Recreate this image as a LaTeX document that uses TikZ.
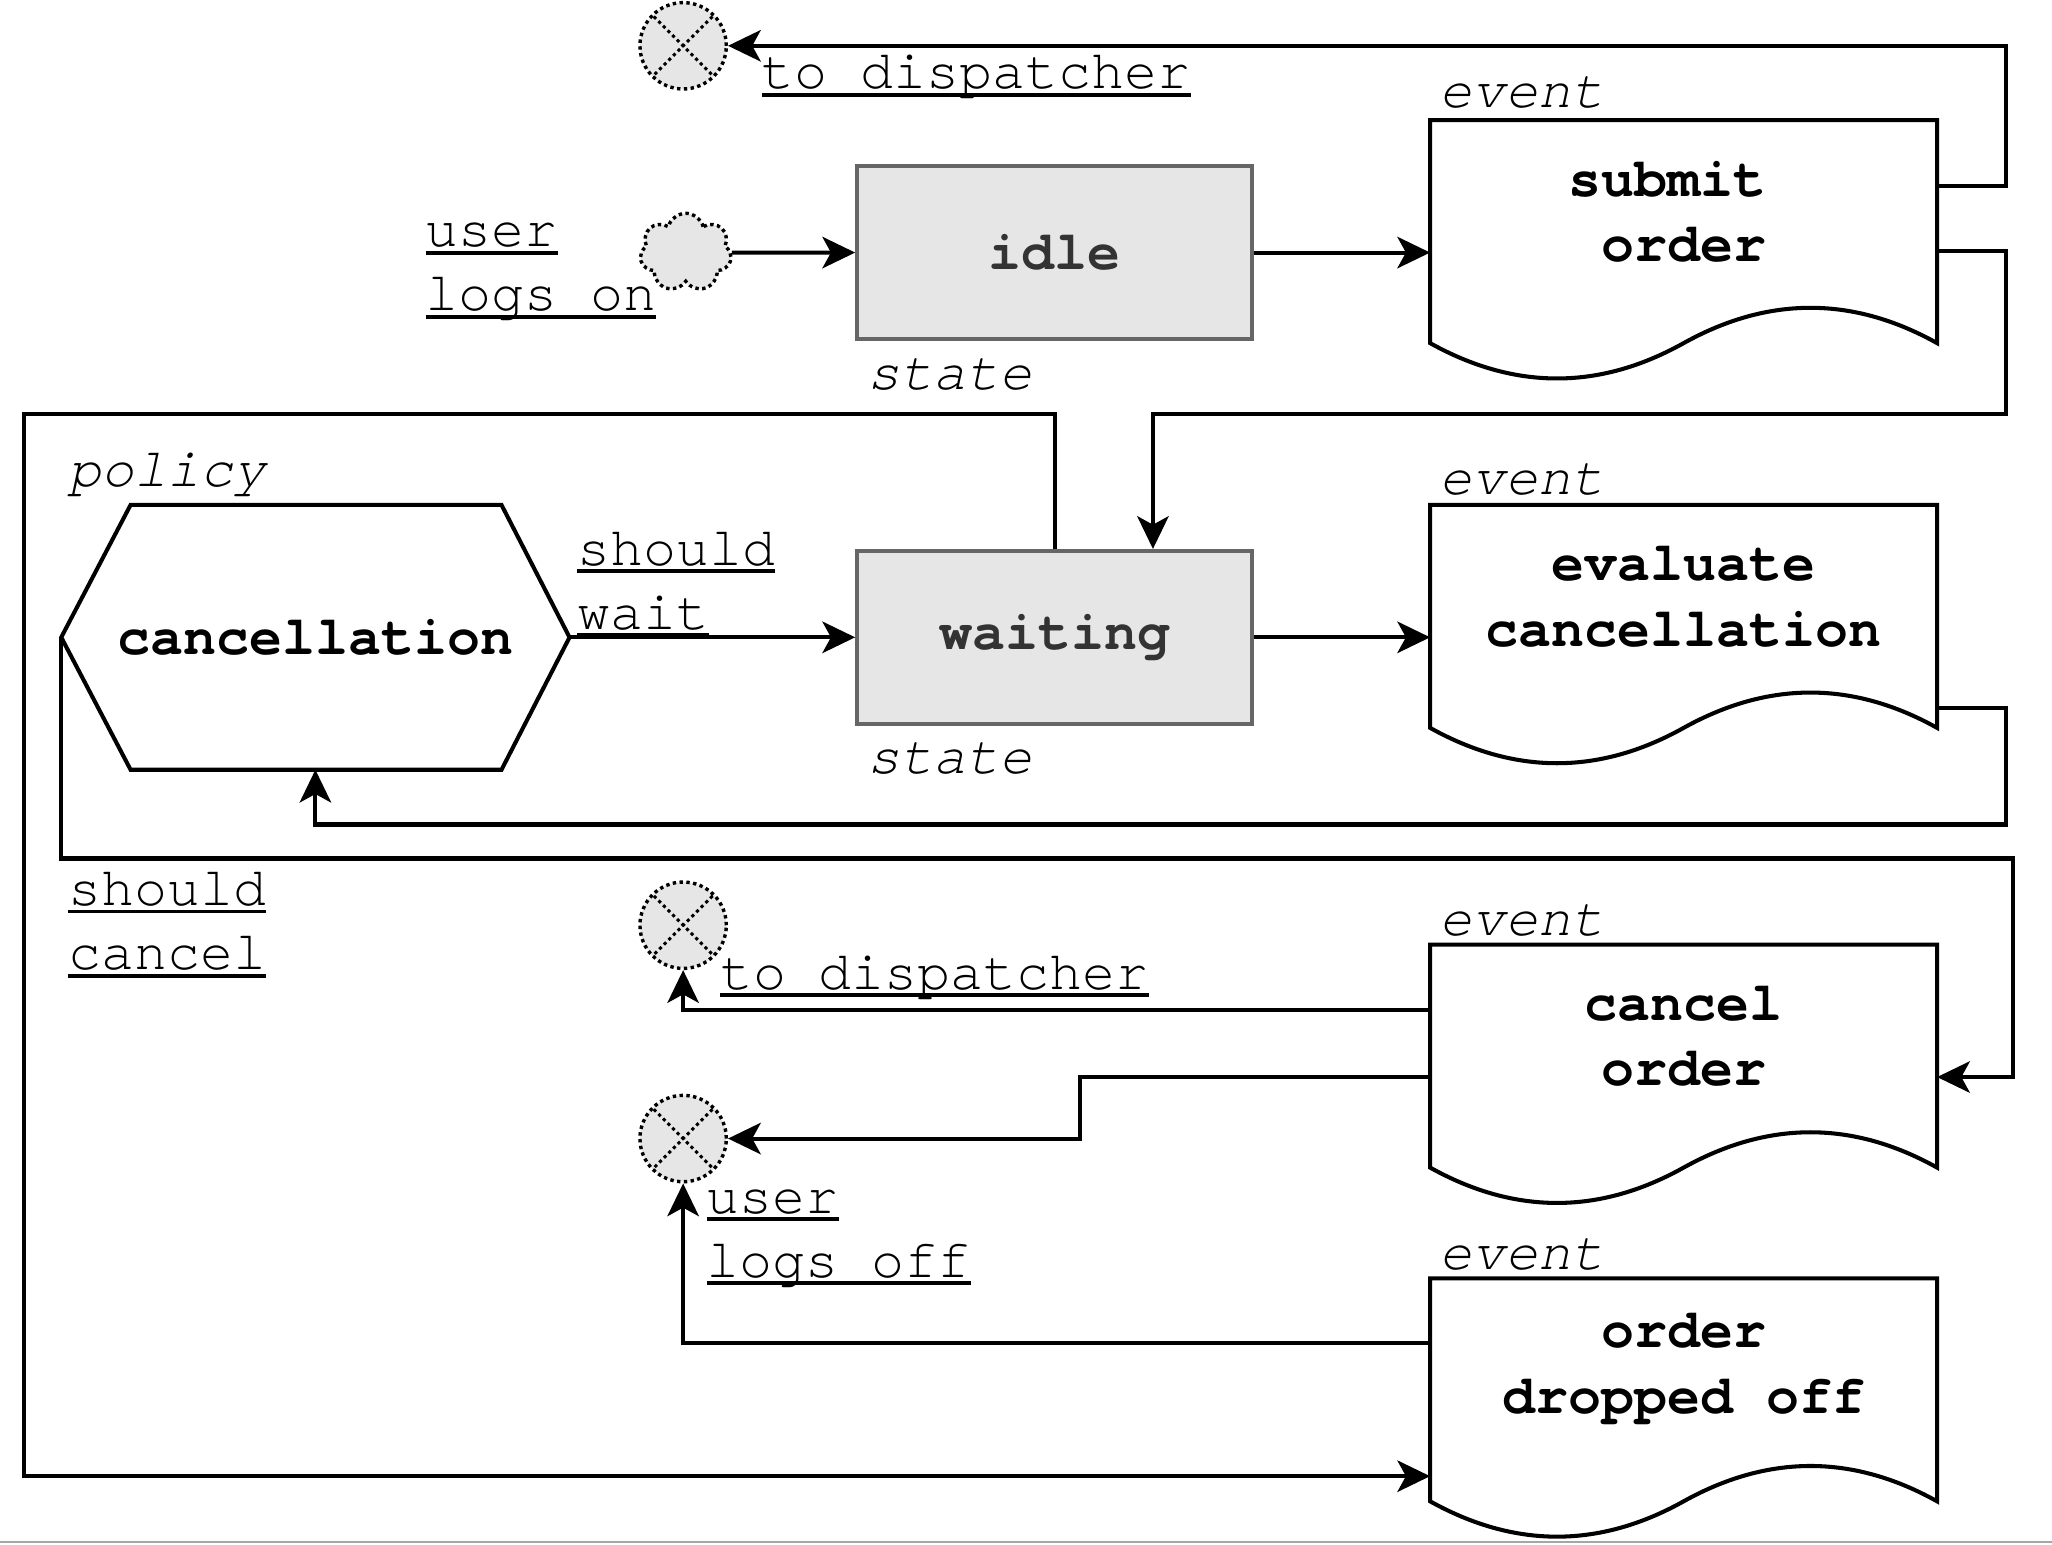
\documentclass[tikz,border=0pt]{standalone}
\usepackage{fontspec}
\setmonofont{texgyrecursor-regular.otf}[BoldFont=texgyrecursor-bold.otf,ItalicFont=texgyrecursor-italic.otf,BoldItalicFont=texgyrecursor-bolditalic.otf,Ligatures=NoCommon]
\usetikzlibrary{shapes.symbols,arrows.meta,calc}
\definecolor{stfill}{RGB}{230,230,230}
\definecolor{stdraw}{RGB}{102,102,102}
\definecolor{sttext}{RGB}{51,51,51}
\newcommand{\ulx}[1]{\setbox0\hbox{#1}\rlap{\rule[-6pt]{\wd0}{3pt}}\box0}
\newcommand{\docwave}[1]{%
  \draw[docline] (#1.south west) -- (#1.north west) -- (#1.north east) -- (#1.south east)
    .. controls ($(#1.south east)+(-64.5,-36)$) and ($(#1.south east)+(-129,-36)$) .. (#1.south)
    .. controls ($(#1.south)+(-64.5,36)$) and ($(#1.south)+(-129,36)$) .. (#1.south west) -- cycle;}
\begin{document}
\begin{tikzpicture}[x=1pt,y=-1pt,
  font=\ttfamily\fontsize{42}{49}\selectfont,
  ln/.style={line width=3.1pt},
  conn/.style={ln,-{Stealth[length=25pt,width=24pt,inset=6.5pt]}},
  boldtxt/.style={font=\ttfamily\bfseries\fontsize{42}{50}\selectfont},
  statebox/.style={draw=stdraw,fill=stfill,line width=3.1pt,minimum width=302pt,minimum height=132pt,inner sep=0pt,text=sttext,boldtxt},
  docbox/.style={minimum width=387pt,minimum height=170pt,inner sep=0pt},
  docline/.style={line width=3.1pt,fill=white},
  doctext/.style={align=center,boldtxt,inner sep=0pt},
  kind/.style={anchor=base west,inner sep=0pt,font=\ttfamily\itshape\fontsize{42}{50}\selectfont},
  elabel/.style={anchor=base west,inner sep=0pt,align=left},
  dotln/.style={line width=2.6pt,dash pattern=on 2.6pt off 2.6pt},
  endpt/.style={circle,minimum size=66pt,inner sep=0pt,fill=stfill,draw,dotln,
     path picture={\draw[line width=2.3pt,dash pattern=on 2.5pt off 2.5pt]
       (path picture bounding box.north west) -- (path picture bounding box.south east)
       (path picture bounding box.north east) -- (path picture bounding box.south west);}},
  startpt/.style={cloud,cloud puffs=7,draw,fill=stfill,dotln,minimum width=70pt,minimum height=60pt,inner sep=0pt}
]
\useasboundingbox (0,0) rectangle (1568,1180);
\draw[line width=1.5pt,black!35] (0,1178.5) -- (1568,1178.5);

% states
\node[statebox] (idle) at (806,193) {idle};
\node[statebox] (wait) at (806,487) {waiting};

% documents (events)
\node[docbox] (sub) at (1286.5,177) {};
\node[docbox] (eval) at (1286.5,471) {};
\node[docbox] (canc) at (1286.5,807) {};
\node[docbox] (drop) at (1286.5,1062) {};
\docwave{sub}
\docwave{eval}
\docwave{canc}
\docwave{drop}
\node[doctext] (subt) at (1286.5,162) {submit\phantom{x}\\order};
\node[doctext] (evalt) at (1286.5,456) {evaluate\\cancellation};
\node[doctext] (canct) at (1286.5,792) {cancel\\order};
\node[doctext] (dropt) at (1286.5,1046) {order\\dropped off};

% policy hexagon
\node[minimum width=388pt,minimum height=202pt,inner sep=0pt,boldtxt] (hex) at (241,487) {cancellation};
\draw[ln] ($(hex.north west)+(53,0)$) -- ($(hex.north east)+(-52,0)$) -- (hex.east)
  -- ($(hex.south east)+(-52,0)$) -- ($(hex.south west)+(53,0)$) -- (hex.west) -- cycle;

% start and end points
\node[startpt] (start) at (524,193) {};
\node[endpt] (o1) at (522,35) {};
\node[endpt] (o2) at (522,707) {};
\node[endpt] (o3) at (522,870) {};

% kind labels
\node[kind] (k1) at (1100,82) {event};
\node[kind] (k2) at (1100,378) {event};
\node[kind] (k3) at (1100,715) {event};
\node[kind] (k4) at (1100,970) {event};
\node[kind] (k5) at (663,298) {state};
\node[kind] (k6) at (663,591) {state};
\node[kind] (k7) at (52,372) {policy};

% edge labels (anchored at the baseline of their last line)
\node[elabel] (l1) at (582,68) {\ulx{to dispatcher}};
\node[elabel] (l2) at (325,237.5) {\ulx{user}\\\ulx{logs on}};
\node[elabel] (l3) at (441,481) {\ulx{should}\\\ulx{wait}};
\node[elabel] (l4) at (52,741) {\ulx{should}\\\ulx{cancel}};
\node[elabel] (l5) at (550,756) {\ulx{to dispatcher}};
\node[elabel] (l6) at (540,976) {\ulx{user}\\\ulx{logs off}};

% connectors
\draw[conn] (sub.east |- 0,142) -| (1533,35) -- (o1.east);
\draw[conn] (start.east) -- (idle.west);
\draw[conn] (idle.east) -- (sub.west |- idle.east);
\draw[conn] (sub.east |- 0,192) -| (1533,316) -| ($(wait.north)+(75,0)$);
\draw[conn] (wait.north) |- (18,316) |- (drop.west |- 0,1128);
\draw[conn] (hex.east) -- (wait.west);
\draw[conn] (wait.east) -- (eval.west |- wait.east);
\draw[conn] (eval.east |- 0,541) -| (1533,630) -| (hex.south);
\draw[conn] (hex.west) |- (1538,656) |- (canc.east |- 0,823);
\draw[conn] (canc.west |- 0,772) -| (o2.south);
\draw[conn] (canc.west |- 0,823) -| (825,870) -- (o3.east);
\draw[conn] (drop.west |- 0,1026) -| (o3.south);
\end{tikzpicture}
\end{document}
